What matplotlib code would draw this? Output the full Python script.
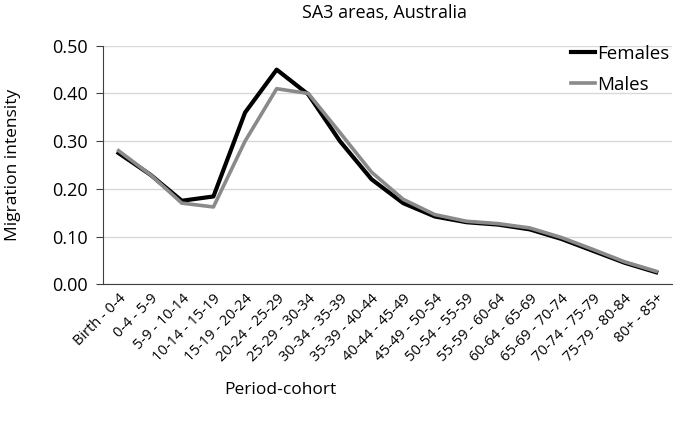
import matplotlib
matplotlib.use('Agg')
import matplotlib.pyplot as plt

plt.rcParams['font.family'] = ['Open Sans', 'DejaVu Sans']

cohorts = ['Birth - 0-4', '0-4 - 5-9', '5-9 - 10-14', '10-14 - 15-19', '15-19 - 20-24',
           '20-24 - 25-29', '25-29 - 30-34', '30-34 - 35-39', '35-39 - 40-44',
           '40-44 - 45-49', '45-49 - 50-54', '50-54 - 55-59', '55-59 - 60-64',
           '60-64 - 65-69', '65-69 - 70-74', '70-74 - 75-79', '75-79 - 80-84', '80+ - 85+']
females = [0.275, 0.230, 0.175, 0.184, 0.360, 0.450, 0.398, 0.300, 0.220, 0.170,
           0.142, 0.130, 0.125, 0.115, 0.095, 0.070, 0.045, 0.025]
males = [0.280, 0.230, 0.170, 0.162, 0.300, 0.410, 0.400, 0.318, 0.235, 0.178,
         0.146, 0.132, 0.127, 0.118, 0.098, 0.073, 0.047, 0.027]

fig = plt.figure(figsize=(6.85, 4.28), dpi=100)
ax = fig.add_axes([0.150, 0.336, 0.831, 0.557])

x = range(len(cohorts))
ax.plot(x, females, color='black', lw=3, label='Females', zorder=3)
ax.plot(x, males, color='#8a8a8a', lw=2.6, label='Males', zorder=4)

ax.set_xlim(-0.5, len(cohorts) - 0.5)
ax.set_ylim(0, 0.5)
ax.set_yticks([0, 0.1, 0.2, 0.3, 0.4, 0.5])
ax.set_yticklabels(['%.2f' % v for v in [0, 0.1, 0.2, 0.3, 0.4, 0.5]], fontsize=13)
ax.set_xticks(list(x))
ax.set_xticklabels(cohorts, rotation=45, ha='right', rotation_mode='anchor', fontsize=10.5)
ax.tick_params(axis='x', length=0, pad=5)
ax.tick_params(axis='y', length=5, color='#404040', pad=6)
ax.grid(axis='y', color='#d9d9d9', lw=1)
ax.set_axisbelow(True)
for s in ['top', 'right']:
    ax.spines[s].set_visible(False)
ax.spines['left'].set_color('#404040')
ax.spines['bottom'].set_color('#404040')

ax.set_ylabel('Migration intensity', fontsize=12.5, labelpad=22)
fig.text(0.409, 0.088, 'Period-cohort', ha='center', va='center', fontsize=12.5)
fig.text(0.562, 0.970, 'SA3 areas, Australia', ha='center', va='center', fontsize=13)

ax.legend(loc='upper right', frameon=False, fontsize=13.5, handlelength=1.3,
          handletextpad=0.1, bbox_to_anchor=(1.025, 1.075), labelspacing=0.7)

fig.savefig('out.png', dpi=100)
